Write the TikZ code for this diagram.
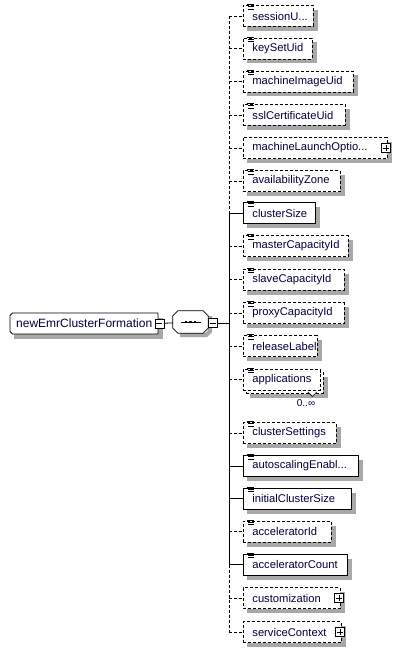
\documentclass[tikz,border=0pt]{standalone}
\usepackage{fontspec}
\setmainfont{Liberation Sans}
\definecolor{txt}{rgb}{0,0,0.24}
\definecolor{shadowgray}{rgb}{0.66,0.66,0.66}
\tikzset{
  el/.style={draw=black, fill=white, rectangle, minimum height=21pt, inner xsep=0pt, inner ysep=0pt,
    anchor=west, font=\fontsize{11.2}{13}\selectfont, text=txt, line width=0.8pt},
  opt/.style={el, dash pattern=on 3pt off 2pt},
  req/.style={el},
  conn/.style={line width=0.8pt},
  optconn/.style={conn, dash pattern=on 3pt off 2pt},
  pm/.style={draw, fill=white, minimum size=9pt, inner sep=0pt, line width=0.6pt, solid},
  ico/.style={line width=0.75pt, solid},
  shadowline/.style={draw=shadowgray, line width=4.5pt, line cap=butt, line join=miter},
}
% shadow as two thick strips outside the box: y = centre, w = width
\newcommand\elem[5]{%
  \draw[shadowline] (243+#4+2.25,#3-6) -- (243+#4+2.25,#3+12.75) -- (247,#3+12.75);
  \node[#2] (#1) at (243,#3) {\makebox[#4pt][l]{\hspace{9pt}#5}};}
\newcommand\docicon[1]{%
  \draw[ico] ([xshift=4pt,yshift=0.6pt]#1.north west) -- ++(6.5pt,0);
  \draw[ico] ([xshift=5pt,yshift=-1.6pt]#1.north west) -- ++(5.5pt,0);
  \draw[ico] ([xshift=5pt,yshift=-3.8pt]#1.north west) -- ++(5.5pt,0);}
\newcommand\plusbox[1]{%
  \node[pm] (#1p) at ([xshift=-2pt]#1.east) {};
  \draw[line width=0.6pt] ([xshift=-3pt]#1p.center) -- ([xshift=3pt]#1p.center);
  \draw[line width=0.6pt] ([yshift=-3pt]#1p.center) -- ([yshift=3pt]#1p.center);}
\begin{document}
\begin{tikzpicture}[x=1pt,y=-1pt]
\useasboundingbox (0,0) rectangle (400,650);
% trunk coordinates
\coordinate (ttop) at (229,16);
\coordinate (tbot) at (229,632);
% root
\draw[shadowline] (160.25,317.5) -- (160.25,336.25) -- (14,336.25);
\path[draw, fill=white, line width=0.8pt] (12.5,313) -- (158,313) -- (158,334) -- (12.5,334) -- (10,331.5) -- (10,315.5) -- cycle;
\node[rectangle, minimum width=148pt, minimum height=21pt, inner sep=0pt, anchor=west,
  font=\fontsize{12}{14}\selectfont, text=txt] (root) at (10,323.5) {newEmrClusterFormation\hspace{6pt}};
\node[pm] (rootm) at ([xshift=1pt]root.east) {};
\draw[line width=0.6pt] ([xshift=-3pt]rootm.center) -- ([xshift=3pt]rootm.center);
% compositor
\draw[shadowline, line width=4pt] (210,316) -- (210,331.2) -- (206.2,335) -- (180,335);
\node[rectangle, minimum width=35pt, minimum height=22pt, inner sep=0pt] (seq) at (190.5,322) {};
\filldraw[fill=white, line width=0.8pt] ([xshift=5pt]seq.north west) -- ([xshift=-5pt]seq.north east)
  -- ([yshift=-5pt]seq.north east) -- ([yshift=5pt]seq.south east) -- ([xshift=-5pt]seq.south east)
  -- ([xshift=5pt]seq.south west) -- ([yshift=5pt]seq.south west) -- ([yshift=-5pt]seq.north west) -- cycle;
\draw[line width=0.8pt] ([xshift=-10pt]seq.center) -- ([xshift=10pt]seq.center);
\foreach \dx in {-4.5,0,4.5} \fill ([xshift=\dx pt-1.4pt,yshift=-1.4pt]seq.center) rectangle ++(2.8pt,2.8pt) ;
\node[pm] (seqm) at (213,323) {};
\draw[line width=0.6pt] ([xshift=-3pt]seqm.center) -- ([xshift=3pt]seqm.center);
\draw[conn] (rootm) -- (seq);
\draw[conn] (seqm.east) -- (seqm.east -| ttop);
% children
\elem{c1}{opt}{16}{70}{sessionU...}
\elem{c2}{opt}{48.5}{69}{keySetUid}
\elem{c3}{opt}{81.5}{110}{machineImageUid}
\elem{c4}{opt}{115}{102}{sslCertificateUid}
\elem{c5}{opt}{148}{144}{machineLaunchOptio...}
\elem{c6}{opt}{181}{97}{availabilityZone}
\elem{c7}{req}{213}{72}{clusterSize}
\elem{c8}{opt}{246}{105}{masterCapacityId}
\elem{c9}{opt}{279.5}{101}{slaveCapacityId}
\elem{c10}{opt}{313}{101}{proxyCapacityId}
\elem{c11}{opt}{346}{74}{releaseLabel}
% applications (multiple)
\draw[shadowline] (325.25,377) -- (325.25,395.75) -- (250,395.75);
\node[draw, fill=white, dash pattern=on 3pt off 2pt, line width=0.8pt,
  minimum width=77pt, minimum height=21pt, inner sep=0pt] (c12b) at (284.5,382.5) {};
\node[opt] (c12) at (243,379.5) {\makebox[77pt][l]{\hspace{9pt}applications}};
\filldraw[line width=0.6pt, fill=white] ([xshift=-13pt,yshift=-1.5pt]c12.south east) -- ([xshift=-8.5pt,yshift=-6pt]c12.south east) -- ([xshift=-4pt,yshift=-1.5pt]c12.south east);
\node[font=\fontsize{10}{12}\selectfont, text=txt, inner sep=0pt] (c12m) at (306,403) {0..∞};
\elem{c13}{opt}{433}{93}{clusterSettings}
\elem{c14}{req}{466}{115}{autoscalingEnabl...}
\elem{c15}{req}{498.5}{108}{initialClusterSize}
\elem{c16}{opt}{531.5}{88}{acceleratorId}
\elem{c17}{req}{564.5}{104}{acceleratorCount}
\elem{c18}{opt}{598}{97}{customization}
\elem{c19}{opt}{632}{98}{serviceContext}
% icons
\foreach \n in {c1,c2,c3,c4,c6,c7,c8,c9,c10,c11,c12,c13,c14,c15,c16,c17} {\docicon{\n}}
\plusbox{c5}
\plusbox{c18}
\plusbox{c19}
% trunk
\coordinate (tA) at (c7.west -| ttop);
\coordinate (tB) at (c17.west -| ttop);
\draw[optconn] (ttop) -- (tA);
\draw[conn] (tA) -- (tB);
\draw[optconn] (tB) -- (tbot);
% branches
\foreach \n in {c1,c2,c3,c4,c5,c6,c8,c9,c10,c11,c12,c13,c16,c18,c19} {\draw[optconn] (\n.west -| ttop) -- (\n.west);}
\foreach \n in {c7,c14,c15,c17} {\draw[conn] (\n.west -| ttop) -- (\n.west);}
\end{tikzpicture}
\end{document}
